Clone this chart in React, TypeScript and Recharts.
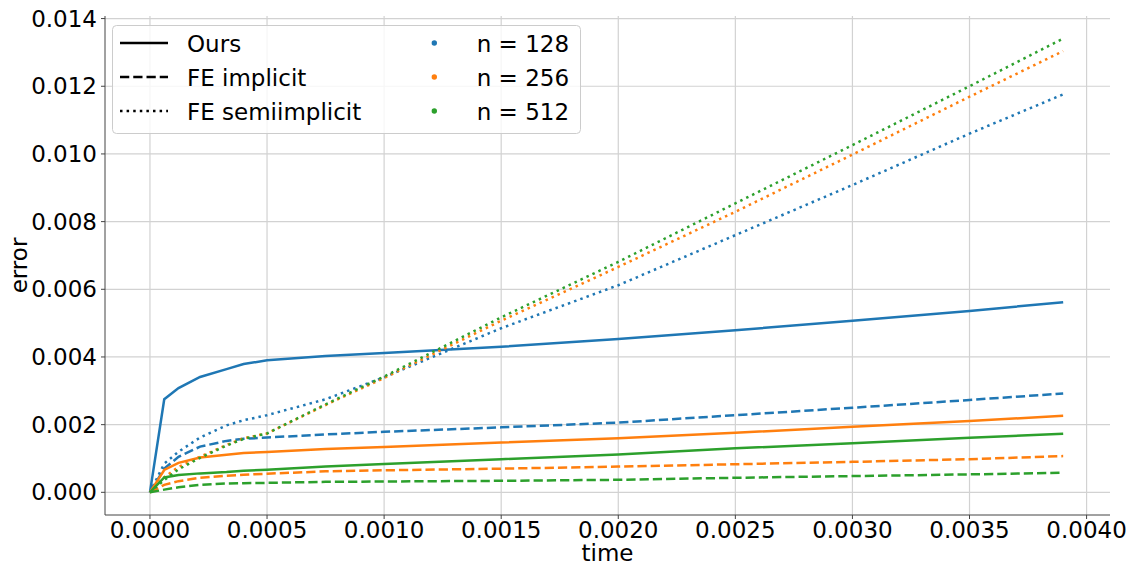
import React from 'react';
import { LineChart, Line, XAxis, YAxis, ReferenceLine, Legend } from 'recharts';

const TIMES = [0, 0.000061, 0.000122, 0.000214, 0.000327, 0.0004, 0.0005, 0.00075, 0.001, 0.0015, 0.002, 0.0025, 0.003, 0.0035, 0.0039];

const OURS_128 = [0, 0.00275, 0.00308, 0.00341, 0.00364, 0.00379, 0.0039, 0.00403, 0.00412, 0.0043, 0.00453, 0.00479, 0.00507, 0.00536, 0.00562];
const OURS_256 = [0, 0.00066, 0.00087, 0.00103, 0.00111, 0.00116, 0.00119, 0.00128, 0.00134, 0.00147, 0.0016, 0.00176, 0.00194, 0.00211, 0.00226];
const OURS_512 = [0, 0.00044, 0.00051, 0.00056, 0.0006, 0.00064, 0.00067, 0.00076, 0.000835, 0.00098, 0.00112, 0.0013, 0.00145, 0.00161, 0.00173];

const IMPL_128 = [0, 0.0007, 0.00105, 0.00135, 0.00152, 0.00158, 0.00162, 0.00171, 0.00179, 0.00192, 0.00206, 0.00228, 0.0025, 0.00273, 0.00292];
const IMPL_256 = [0, 0.00022, 0.00033, 0.00043, 0.00049, 0.00052, 0.00055, 0.00062, 0.00065, 0.0007, 0.00076, 0.00083, 0.0009, 0.00098, 0.00107];
const IMPL_512 = [0, 0.00008, 0.00015, 0.00022, 0.00026, 0.00027, 0.00028, 0.00031, 0.00032, 0.00034, 0.00037, 0.00043, 0.00048, 0.00053, 0.00058];

const SEMI_128 = [0, 0.00085, 0.0012, 0.00162, 0.00198, 0.00213, 0.00228, 0.00275, 0.0034, 0.00485, 0.00612, 0.0076, 0.00908, 0.0106, 0.01176];
const SEMI_256 = [0, 0.00045, 0.00075, 0.00105, 0.0014, 0.0016, 0.00174, 0.00258, 0.00338, 0.00507, 0.00666, 0.00829, 0.00998, 0.01169, 0.01304];
const SEMI_512 = [0, 0.00036, 0.00068, 0.00102, 0.00138, 0.00158, 0.00174, 0.0026, 0.00342, 0.00517, 0.00681, 0.00854, 0.01026, 0.012, 0.01341];

const X_TICKS = [0, 0.0005, 0.001, 0.0015, 0.002, 0.0025, 0.003, 0.0035, 0.004];
const Y_TICKS = [0, 0.002, 0.004, 0.006, 0.008, 0.01, 0.012, 0.014];

const METHOD_LABELS = ['Ours', 'FE implicit', 'FE semiimplicit'];
const N_LABELS = ['n = 128', 'n = 256', 'n = 512'];
const COLORS = ['#1f77b4', '#ff7f0e', '#2ca02c'];
const DASHES: (string | undefined)[] = [undefined, '9.25 4', '2.5 4.1'];

const SERIES = [
  { key: 'ours128', values: OURS_128, m: 0, n: 0 },
  { key: 'impl128', values: IMPL_128, m: 1, n: 0 },
  { key: 'semi128', values: SEMI_128, m: 2, n: 0 },
  { key: 'ours256', values: OURS_256, m: 0, n: 1 },
  { key: 'impl256', values: IMPL_256, m: 1, n: 1 },
  { key: 'semi256', values: SEMI_256, m: 2, n: 1 },
  { key: 'ours512', values: OURS_512, m: 0, n: 2 },
  { key: 'impl512', values: IMPL_512, m: 1, n: 2 },
  { key: 'semi512', values: SEMI_512, m: 2, n: 2 },
];

const data = TIMES.map((t, i) => {
  const row: Record<string, number> = { t };
  SERIES.forEach((s) => {
    row[s.key] = s.values[i];
  });
  return row;
});

const FONT = 'DejaVu Sans, sans-serif';
const FS = 23;
const GRID = '#d2d2d2';

const renderLegend = () => (
  <svg width={470} height={110} style={{ display: 'block', overflow: 'visible', fontFamily: FONT }}>
    <rect x={0.5} y={0.5} width={468} height={108} rx={4} ry={4} fill="rgba(255,255,255,0.8)" stroke="#cccccc" strokeWidth={1} />
    {METHOD_LABELS.map((lab, i) => (
      <g key={lab}>
        <line x1={8} x2={56} y1={18 + i * 34} y2={18 + i * 34} stroke="#000" strokeWidth={2.5} strokeDasharray={DASHES[i]} />
        <text x={75} y={26.5 + i * 34} fontSize={FS} fill="#000">{lab}</text>
      </g>
    ))}
    {N_LABELS.map((lab, i) => (
      <g key={lab}>
        <circle cx={322.3} cy={18 + i * 34} r={2.7} fill={COLORS[i]} />
        <text x={364.7} y={26.5 + i * 34} fontSize={FS} fill="#000">{lab}</text>
      </g>
    ))}
  </svg>
);

export default function App() {
  return (
    <div style={{ position: 'absolute', left: 0, top: 0, background: '#fff' }}>
      <LineChart
        width={1133}
        height={565}
        data={data}
        margin={{ top: 16, right: 23, bottom: 0, left: 0 }}
        style={{ fontFamily: FONT }}
      >
        {X_TICKS.map((t) => (
          <ReferenceLine key={`gx${t}`} x={t} stroke={GRID} strokeWidth={1.2} />
        ))}
        {Y_TICKS.map((v) => (
          <ReferenceLine key={`gy${v}`} y={v} stroke={GRID} strokeWidth={1.2} />
        ))}
        <XAxis
          dataKey="t"
          type="number"
          domain={[-0.000192, 0.0041]}
          ticks={X_TICKS}
          allowDataOverflow
          tickFormatter={(v: number) => v.toFixed(4)}
          height={50}
          tickSize={4}
          tickMargin={3}
          stroke="#444"
          tick={{ fontSize: FS, fill: '#000', fontFamily: FONT }}
          label={{
            content: (props: any) => {
              const vb = props.viewBox || { x: 105, y: 515, width: 1005, height: 50 };
              return (
                <text x={vb.x + vb.width / 2} y={vb.y + 46} textAnchor="middle" fontSize={FS} fill="#000" fontFamily={FONT}>
                  time
                </text>
              );
            },
          }}
        />
        <YAxis
          type="number"
          domain={[-0.00067, 0.014076]}
          ticks={Y_TICKS}
          allowDataOverflow
          tickFormatter={(v: number) => v.toFixed(3)}
          width={105}
          tickSize={4}
          tickMargin={4}
          stroke="#444"
          tick={{ fontSize: FS, fill: '#000', fontFamily: FONT }}
          label={{
            content: (props: any) => {
              const vb = props.viewBox || { x: 0, y: 16, width: 105, height: 499 };
              const cx = vb.x + 27;
              const cy = vb.y + vb.height / 2;
              return (
                <text x={cx} y={cy} transform={`rotate(-90 ${cx} ${cy})`} textAnchor="middle" fontSize={FS} fill="#000" fontFamily={FONT}>
                  error
                </text>
              );
            },
          }}
        />
        <Legend
          layout="horizontal"
          verticalAlign="middle"
          align="center"
          content={renderLegend}
          wrapperStyle={{ left: 112, top: 25, width: 470, height: 110 }}
        />
        {SERIES.map((s) => (
          <Line
            key={s.key}
            dataKey={s.key}
            type="linear"
            stroke={COLORS[s.n]}
            strokeWidth={2.5}
            strokeDasharray={DASHES[s.m]}
            dot={false}
            activeDot={false}
            isAnimationActive={false}
            legendType="none"
          />
        ))}
      </LineChart>
    </div>
  );
}
